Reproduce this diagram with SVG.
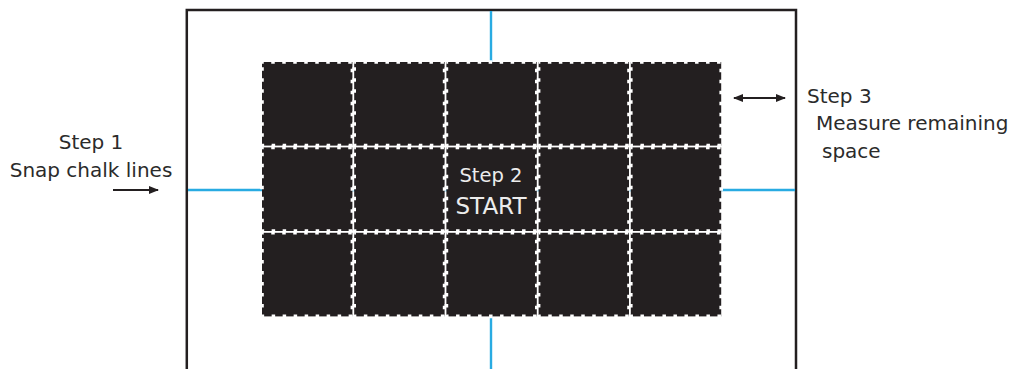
<svg xmlns="http://www.w3.org/2000/svg" width="1028" height="369" viewBox="0 0 1028 369">
<defs>
<style>
.tile{fill:#231f20;stroke:#ffffff;stroke-width:3.6;stroke-dasharray:3.5 7.5;stroke-dashoffset:1.75}
.chalk{stroke:#29abe2;stroke-width:2.4;fill:none}
.frame{stroke:#231f20;stroke-width:2.5;fill:none}
.lbl{font-family:"DejaVu Sans","Liberation Sans",sans-serif;font-size:20px;fill:#2b2b2b}
.inlbl{font-family:"DejaVu Sans","Liberation Sans",sans-serif;fill:#ececec;text-anchor:middle}
.arr{stroke:#231f20;stroke-width:1.8;fill:none}
</style>
<marker id="ah2" viewBox="0 0 10 8" refX="9" refY="4" markerWidth="10" markerHeight="8" orient="auto-start-reverse" markerUnits="userSpaceOnUse">
<path d="M0,0 L10,4 L0,8 z" fill="#231f20"/>
</marker>
</defs>
<rect width="1028" height="369" fill="#ffffff"/>
<g id="frame">
<path class="frame" d="M186.8,369 V10 H796 V369"/>
</g>
<g id="chalk-lines">
<line class="chalk" x1="491" y1="11" x2="491" y2="369"/>
<line class="chalk" x1="188" y1="190" x2="795" y2="190"/>
</g>
<g id="tiles">
<g id="row1">
<rect class="tile" x="262" y="62" width="90.4" height="83.6"/>
<rect class="tile" x="354.2" y="62" width="90.4" height="83.6"/>
<rect class="tile" x="446.4" y="62" width="90.4" height="83.6"/>
<rect class="tile" x="538.6" y="62" width="90.4" height="83.6"/>
<rect class="tile" x="630.8" y="62" width="90.4" height="83.6"/>
</g>
<g id="row2">
<rect class="tile" x="262" y="147.4" width="90.4" height="83.6"/>
<rect class="tile" x="354.2" y="147.4" width="90.4" height="83.6"/>
<rect class="tile" x="446.4" y="147.4" width="90.4" height="83.6"/>
<rect class="tile" x="538.6" y="147.4" width="90.4" height="83.6"/>
<rect class="tile" x="630.8" y="147.4" width="90.4" height="83.6"/>
</g>
<g id="row3">
<rect class="tile" x="262" y="232.8" width="90.4" height="83.6"/>
<rect class="tile" x="354.2" y="232.8" width="90.4" height="83.6"/>
<rect class="tile" x="446.4" y="232.8" width="90.4" height="83.6"/>
<rect class="tile" x="538.6" y="232.8" width="90.4" height="83.6"/>
<rect class="tile" x="630.8" y="232.8" width="90.4" height="83.6"/>
</g>
</g>
<g id="connectors">
<line class="arr" x1="113" y1="190" x2="158" y2="190" marker-end="url(#ah2)"/>
<line class="arr" x1="734" y1="98" x2="785" y2="98" marker-start="url(#ah2)" marker-end="url(#ah2)"/>
</g>
<g id="step1">
<text class="lbl" x="91" y="149" text-anchor="middle">Step 1</text>
<text class="lbl" x="91" y="177" text-anchor="middle">Snap chalk lines</text>
</g>
<g id="step2">
<text class="inlbl" x="491" y="182" font-size="19.5">Step 2</text>
<text class="inlbl" x="491" y="214" font-size="23">START</text>
</g>
<g id="step3">
<text class="lbl" x="807" y="103">Step 3</text>
<text class="lbl" x="816" y="130">Measure remaining</text>
<text class="lbl" x="822" y="158">space</text>
</g>
</svg>
